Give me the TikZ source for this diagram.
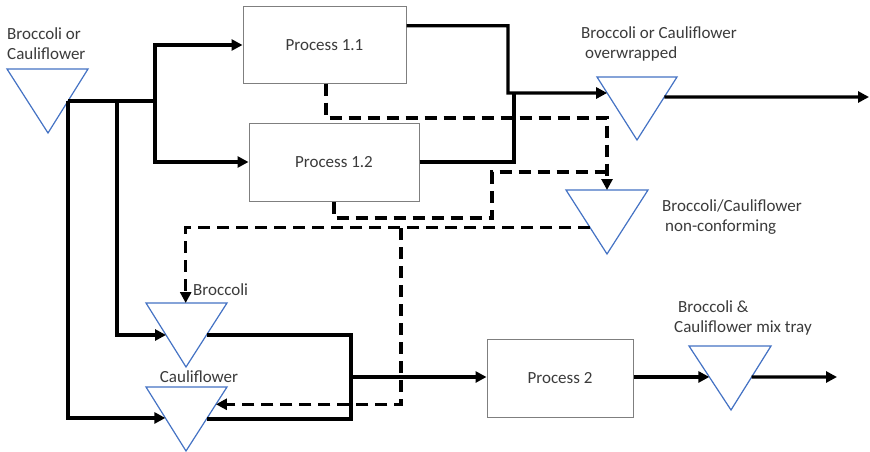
\documentclass[tikz,border=0pt]{standalone}
\usepackage{fontspec}
\setmainfont{Carlito}
\usetikzlibrary{arrows.meta,calc}
\definecolor{triblue}{HTML}{4472C4}
\definecolor{boxgray}{HTML}{7F7F7F}
\definecolor{txt}{HTML}{3B3B3B}
\begin{document}
\begin{tikzpicture}[x=1pt,y=-1pt,
  flow/.style={line width=3.4pt},
  flowarrow/.style={flow,-{Triangle[length=11pt,width=11pt]}},
  waste/.style={line width=3.4pt,dash pattern=on 12pt off 7pt},
  wastearrow/.style={waste,-{Triangle[length=11pt,width=11pt]}},
  procbox/.style={draw=boxgray,line width=1pt,fill=white,inner sep=0pt,font=\fontsize{17}{20}\selectfont,text=txt},
  inv/.style={draw=triblue,line width=1.2pt,fill=white,line join=miter},
  lbl/.style={font=\fontsize{17}{20}\selectfont,text=txt,align=left,inner sep=0pt}
]
\fill[white] (0,0) rectangle (870,452);
\useasboundingbox (0,0) rectangle (870,452);

% process boxes
\node[procbox,minimum width=163pt,minimum height=76pt] (p11) at (324.5,45) {Process 1.1};
\node[procbox,minimum width=170pt,minimum height=78pt] (p12) at (334,162) {Process 1.2};
\node[procbox,minimum width=146pt,minimum height=78pt] (p2) at (560,378) {Process 2};

% inventory triangles
\coordinate (t0a) at (7,69);    \coordinate (t0b) at (88,69);   \coordinate (t0c) at (48,133);
\coordinate (tova) at (597,77); \coordinate (tovb) at (677,77); \coordinate (tovc) at (637,140);
\coordinate (tnca) at (566,190);\coordinate (tncb) at (648,190);\coordinate (tncc) at (607,254);
\coordinate (tbra) at (146,303);\coordinate (tbrb) at (227,303);\coordinate (tbrc) at (186,367);
\coordinate (tcaa) at (146,387);\coordinate (tcab) at (227,387);\coordinate (tcac) at (186,451);
\coordinate (tmxa) at (689,346);\coordinate (tmxb) at (771,346);\coordinate (tmxc) at (731,410);
\foreach \t in {t0,tov,tnc,tbr,tca,tmx}{
  \draw[inv] (\t a) -- (\t b) -- (\t c) -- cycle;
}

% connection points
\coordinate (t0R)  at ($(t0b)!0.5!(t0c)$);
\coordinate (tovL) at ($(tova)!0.254!(tovc)$);
\coordinate (tovR) at ($(tovb)!0.317!(tovc)$);
\coordinate (tncT) at ($(tnca)!0.5!(tncb)$);
\coordinate (tncL) at ($(tnca)!0.59!(tncc)$);
\coordinate (tbrT) at ($(tbra)!0.49!(tbrb)$);
\coordinate (tbrL) at ($(tbra)!0.5!(tbrc)$);
\coordinate (tbrR) at ($(tbrb)!0.5!(tbrc)$);
\coordinate (tcaL) at ($(tcaa)!0.484!(tcac)$);
\coordinate (tcaR) at ($(tcab)!0.5!(tcac)$);
\coordinate (tcaQ) at ($(tcab)!0.27!(tcac)$);
\coordinate (tmxL) at ($(tmxa)!0.484!(tmxc)$);
\coordinate (tmxR) at ($(tmxb)!0.484!(tmxc)$);
\coordinate (p11o) at ($(p11.north east)!0.25!(p11.south east)$);
\coordinate (p11b) at ($(p11.south west)!0.51!(p11.south east)$);
\coordinate (p12b) at ($(p12.south west)!0.5!(p12.south east)$);

% junctions and free ends
\coordinate (j1) at (155,101);
\coordinate (j2) at (117,101);
\coordinate (j4) at (351,377);
\coordinate (j5) at (508,93);
\coordinate (j6) at (514,93);
\coordinate (j7) at (607,118);
\coordinate (j8) at (492,218);
\coordinate (j9) at (607,172);
\coordinate (j10) at (401,228);
\coordinate (endov) at (869,97);
\coordinate (endmx) at (837,377);

% solid material flows
\draw[flow] (t0R) -- (j1);
\draw[flowarrow] (j1) |- (p11.west);
\draw[flowarrow] (j1) |- (p12.west);
\draw[flowarrow] (t0R) |- (tcaL);
\draw[flowarrow] (j2) |- (tbrL);
\draw[flow] (tbrR) -| (j4) |- (tcaR);
\draw[flowarrow] (j4) -- (p2.west |- j4);
\draw[flowarrow] (p2.east |- tmxL) -- (tmxL);
\draw[flowarrow] (tmxR) -- (endmx);
\draw[flowarrow] (p11o) -| (j5) -- (tovL);
\draw[flow] (p12.east) -| (j6);
\draw[flowarrow] (tovR) -- (endov);

% dashed non-conforming flows
\draw[wastearrow] (p11b) |- (j7) -- (tncT);
\draw[waste] (p12b) |- (j8) |- (j9);
\draw[wastearrow] (tncL) -| (tbrT);
\draw[wastearrow] (j10) |- (tcaQ);

% labels
\node[lbl,anchor=west] (l0) at (7,44) {Broccoli or\\Cauliflower};
\node[lbl,anchor=west] (lov) at (581,44) {Broccoli or Cauliflower\\\hspace*{4pt}overwrapped};
\node[lbl,anchor=west] (lnc) at (662,217) {Broccoli/Cauliflower\\\hspace*{3pt}non-conforming};
\node[lbl,anchor=west] (lbr) at (193,290) {Broccoli};
\node[lbl] (lca) at (199,377) {Cauliflower};
\node[lbl,anchor=west] (lmx) at (674,318) {\hspace*{4pt}Broccoli \&\\Cauliflower mix tray};
\end{tikzpicture}
\end{document}
